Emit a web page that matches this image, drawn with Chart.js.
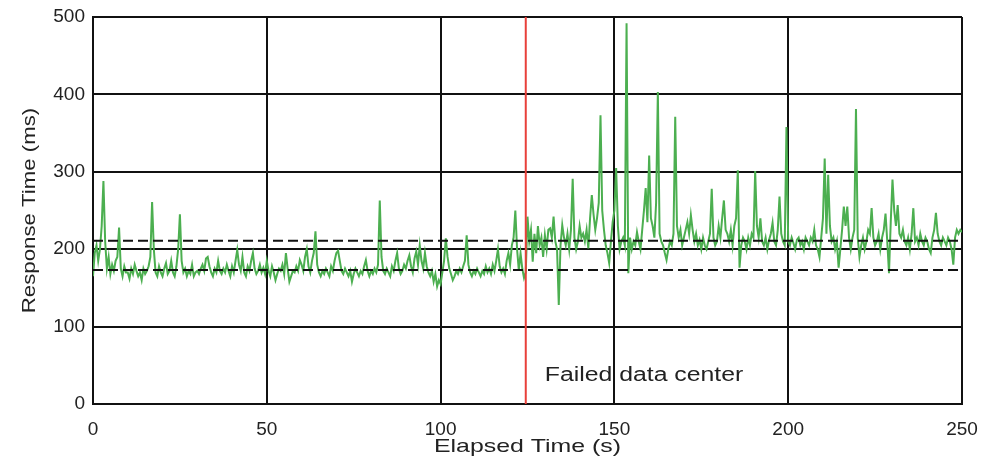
<!DOCTYPE html>
<html>
<head>
<meta charset="utf-8">
<script src="https://cdn.jsdelivr.net/npm/chart.js@4.4.1/dist/chart.umd.min.js"></script>
<style>
html,body{margin:0;padding:0;background:#fff;overflow:hidden}
#c{display:block}
</style>
</head>
<body>
<canvas id="c" width="987" height="458"></canvas>
<script>
// ---- data ----
const sampleInterval = 0.5; // seconds between samples
const responseTimes = [
  165,195,205,185,200,230,288,210,175,190,168,180,172,185,190,228,175,165,178,170,
  170,162,175,168,180,172,165,170,160,175,168,172,178,190,261,200,170,165,178,170,
  165,175,182,168,172,185,170,165,178,200,245,185,170,175,165,172,168,180,165,170,
  172,168,175,180,172,188,190,178,170,165,175,170,185,172,168,175,170,180,172,165,
  178,170,185,199,180,172,190,170,165,178,172,185,195,175,168,172,180,170,176,168,
  185,172,165,178,170,160,168,175,172,180,168,195,175,158,165,172,170,178,172,186,
  180,172,190,200,178,170,185,195,223,180,170,165,172,168,175,170,165,178,172,185,
  195,198,185,172,168,175,170,165,172,158,168,175,170,165,172,168,178,186,172,165,
  172,168,175,170,180,263,190,172,168,175,170,165,178,172,185,195,175,168,172,180,
  175,185,192,178,170,188,197,180,205,185,175,195,178,170,165,172,158,168,152,160,
  155,170,185,214,190,175,168,160,165,172,168,175,170,178,185,218,180,170,165,172,
  168,175,170,165,172,168,178,170,175,168,180,172,185,200,178,170,175,168,185,195,
  180,205,215,250,200,173,195,175,163,170,242,210,225,184,220,195,230,205,215,190,
  218,200,225,227,215,242,210,200,128,205,231,215,205,220,200,225,291,215,200,210,
  230,215,220,210,225,201,240,270,245,225,240,260,373,250,225,205,195,182,210,235,
  250,305,230,200,210,215,205,492,169,215,200,210,205,222,210,200,225,250,279,235,
  321,240,230,215,260,403,220,210,205,195,186,200,210,205,220,371,230,215,225,205,
  215,225,235,220,244,225,210,220,205,212,200,215,205,200,210,220,278,215,205,210,
  230,215,240,263,225,220,210,225,205,230,240,302,176,205,215,210,200,215,205,220,
  215,301,230,215,240,210,205,215,200,212,220,234,210,205,225,268,220,210,205,358,
  210,205,215,208,200,212,215,205,210,200,215,210,205,215,210,225,205,200,190,215,
  240,317,220,296,230,210,215,200,210,176,200,225,255,230,255,215,200,215,225,381,
  215,190,205,215,200,210,225,220,253,215,205,210,220,200,215,225,246,210,169,235,
  290,250,230,257,220,215,225,210,205,215,200,220,253,210,215,205,220,210,205,215,
  210,200,195,215,225,247,220,210,205,215,210,205,215,210,200,180,215,225,220,225,222
];
const xTicks = [0, 50, 100, 150, 200, 250];
const yTicks = [0, 100, 200, 300, 400, 500];
const failureTime = 124.5;   // s
const meanBefore = 173;      // ms
const meanAfter = 211;       // ms
const annotationText = 'Failed data center';
const annotationLevel = 30;  // ms, where the label sits
const xTitle = 'Elapsed Time (s)';
const yTitle = 'Response Time (ms)';

// ---- build chart ----
const series = responseTimes.map((v, i) => ({ x: i * sampleInterval, y: v }));
const xMin = xTicks[0], xMax = xTicks[xTicks.length - 1];
const yMin = yTicks[0], yMax = yTicks[yTicks.length - 1];
const FONT = "'Liberation Sans', Arial, Helvetica, sans-serif";
const TEXT = '#222';
const GRID = '#111';

const textPlugin = {
  id: 'texts',
  afterDraw(chart) {
    const { ctx, chartArea, scales } = chart;
    const xs = scales.x, ys = scales.y;
    ctx.save();
    ctx.fillStyle = TEXT;
    ctx.textBaseline = 'alphabetic';
    // annotation
    ctx.save();
    ctx.translate(xs.getPixelForValue(failureTime) + 19, ys.getPixelForValue(annotationLevel));
    ctx.scale(1.24, 1);
    ctx.font = '20px ' + FONT;
    ctx.textAlign = 'left';
    ctx.fillText(annotationText, 0, 0);
    ctx.restore();
    // x title
    ctx.save();
    ctx.translate((chartArea.left + chartArea.right) / 2, 452);
    ctx.scale(1.31, 1);
    ctx.font = '19px ' + FONT;
    ctx.textAlign = 'center';
    ctx.fillText(xTitle, 0, 0);
    ctx.restore();
    // y title
    ctx.save();
    ctx.translate(35, (chartArea.top + chartArea.bottom) / 2);
    ctx.rotate(-Math.PI / 2);
    ctx.scale(1.17, 1);
    ctx.font = '19px ' + FONT;
    ctx.textAlign = 'center';
    ctx.fillText(yTitle, 0, 0);
    ctx.restore();
    ctx.restore();
  }
};

new Chart(document.getElementById('c'), {
  type: 'line',
  data: {
    datasets: [
      { label: 'Failure', data: [{ x: failureTime, y: yMin }, { x: failureTime, y: yMax }],
        borderColor: '#e8403a', borderWidth: 2, pointRadius: 0, order: 0 },
      { label: 'Mean after', data: [{ x: xMin, y: meanAfter }, { x: xMax, y: meanAfter }],
        borderColor: GRID, borderWidth: 2, borderDash: [10, 5], pointRadius: 0, order: 1 },
      { label: 'Mean before', data: [{ x: xMin, y: meanBefore }, { x: xMax, y: meanBefore }],
        borderColor: GRID, borderWidth: 2, borderDash: [10, 5], pointRadius: 0, order: 1 },
      { label: 'Response time', data: series,
        borderColor: '#4caf50', borderWidth: 2, pointRadius: 0, tension: 0, order: 2 }
    ]
  },
  options: {
    responsive: false,
    animation: false,
    devicePixelRatio: 1,
    layout: { padding: { top: 17, right: 25, left: 0, bottom: 0 } },
    plugins: { legend: { display: false }, tooltip: { enabled: false } },
    scales: {
      x: {
        type: 'linear', min: xMin, max: xMax, z: 1,
        grid: { color: GRID, lineWidth: 2, drawTicks: false },
        border: { color: GRID, width: 2 },
        ticks: { color: TEXT, font: { family: FONT, size: 19 }, padding: 14, maxRotation: 0, autoSkip: false },
        afterBuildTicks: s => { s.ticks = xTicks.map(v => ({ value: v })); },
        afterFit: s => { s.height = 54; s.paddingLeft = 0; s.paddingRight = 0; }
      },
      y: {
        type: 'linear', min: yMin, max: yMax, z: 1,
        grid: { color: GRID, lineWidth: 2, drawTicks: false },
        border: { color: GRID, width: 2 },
        ticks: { color: TEXT, font: { family: FONT, size: 19 }, padding: 8, autoSkip: false },
        afterBuildTicks: s => { s.ticks = yTicks.map(v => ({ value: v })); },
        afterFit: s => { s.width = 93; s.paddingTop = 0; s.paddingBottom = 0; }
      }
    }
  },
  plugins: [textPlugin]
});
</script>
</body>
</html>
